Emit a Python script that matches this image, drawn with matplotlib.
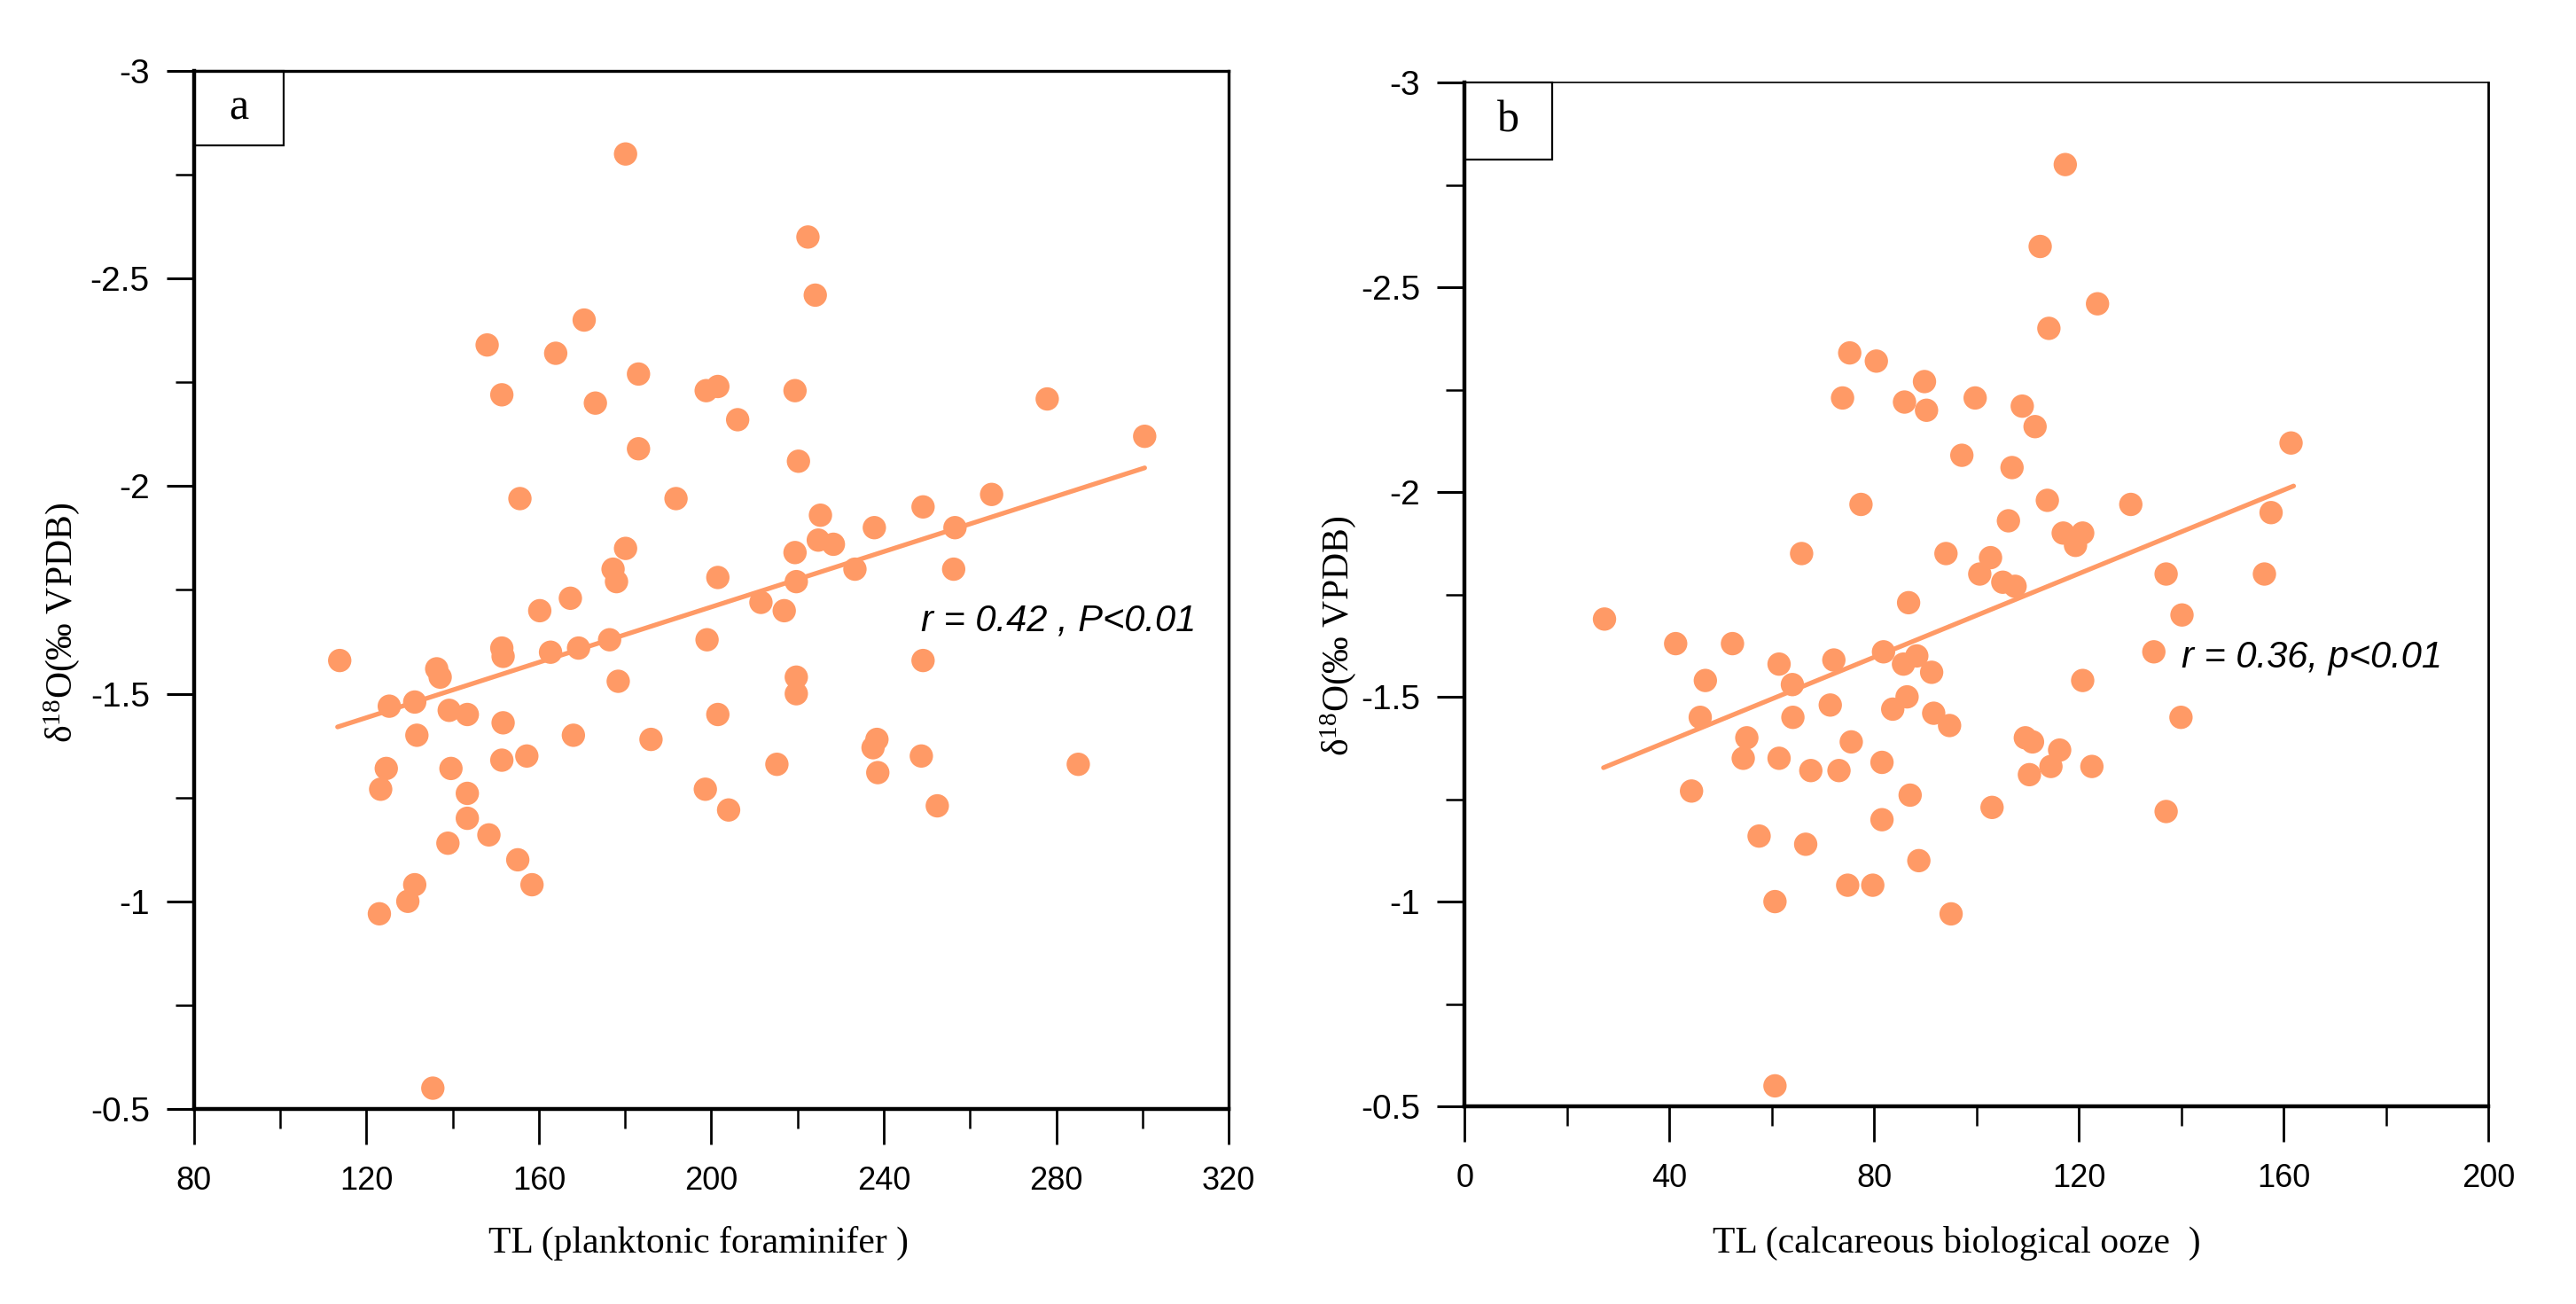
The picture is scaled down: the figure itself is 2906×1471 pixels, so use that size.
import matplotlib
matplotlib.use('Agg')
import matplotlib.pyplot as plt
from matplotlib.patches import Rectangle
from matplotlib.ticker import MultipleLocator

plt.rcParams['font.family'] = ['Liberation Sans', 'DejaVu Sans']
plt.rcParams['mathtext.fontset'] = 'custom'
plt.rcParams['mathtext.rm'] = 'Liberation Serif'
plt.rcParams['mathtext.it'] = 'Liberation Serif:italic'

# ---------------- data: panel a (planktonic foraminifer) ----------------
a_tl = [180.1, 170.5, 148.0, 163.9, 183.1, 151.4, 173.1, 183.1, 155.6, 191.8,
        180.1, 177.2, 178.0, 222.4, 224.1, 198.8, 201.5, 219.4, 206.1, 220.2,
        277.9, 300.5, 265.0, 249.1, 225.3, 237.8, 256.5, 219.4, 224.8, 228.3,
        201.5, 233.3, 256.2, 219.7, 160.2, 167.3, 113.8, 136.3, 137.1, 151.4,
        151.7, 162.7, 169.2, 176.4, 178.4, 199.0, 125.3, 131.2, 139.2, 143.4,
        151.7, 131.7, 168.0, 186.0, 124.6, 123.3, 139.6, 151.4, 157.2, 143.4,
        143.4, 148.4, 138.9, 155.1, 158.4, 131.2, 129.6, 123.0, 135.4, 211.5,
        216.9, 249.1, 219.7, 219.7, 201.5, 215.2, 238.4, 237.5, 238.6, 248.7,
        285.1, 198.6, 204.0, 252.4]
a_d18o = [-2.80, -2.40, -2.34, -2.32, -2.27, -2.22, -2.20, -2.09, -1.97, -1.97,
          -1.85, -1.80, -1.77, -2.60, -2.46, -2.23, -2.24, -2.23, -2.16, -2.06,
          -2.21, -2.12, -1.98, -1.95, -1.93, -1.90, -1.90, -1.84, -1.87, -1.86,
          -1.78, -1.80, -1.80, -1.77, -1.70, -1.73, -1.58, -1.56, -1.54, -1.61,
          -1.59, -1.60, -1.61, -1.63, -1.53, -1.63, -1.47, -1.48, -1.46, -1.45,
          -1.43, -1.40, -1.40, -1.39, -1.32, -1.27, -1.32, -1.34, -1.35, -1.26,
          -1.20, -1.16, -1.14, -1.10, -1.04, -1.04, -1.00, -0.97, -0.55, -1.72,
          -1.70, -1.58, -1.54, -1.50, -1.45, -1.33, -1.39, -1.37, -1.31, -1.35,
          -1.33, -1.27, -1.22, -1.23]
a_fit_tl = [113.3, 300.5]
a_fit_d18o = [-1.420, -2.044]

# ---------------- data: panel b (calcareous biological ooze) ----------------
b_tl = [75.2, 80.4, 89.8, 73.8, 85.9, 90.2, 99.7, 97.1, 77.4, 65.8,
        94.0, 117.3, 112.4, 123.6, 114.1, 108.9, 111.4, 106.9, 161.4, 113.8,
        130.1, 106.2, 116.9, 120.7, 119.3, 157.5, 102.7, 100.6, 105.1, 107.5,
        137.0, 156.2, 86.7, 27.3, 41.2, 52.3, 61.4, 64.0, 72.1, 81.8,
        85.7, 88.3, 91.2, 47.0, 46.0, 64.1, 71.4, 83.6, 86.4, 91.6,
        94.7, 55.1, 54.4, 61.4, 67.6, 73.1, 75.5, 81.5, 87.0, 44.3,
        81.5, 57.5, 66.6, 88.7, 74.8, 79.7, 60.6, 95.0, 60.6, 140.1,
        134.6, 120.7, 139.9, 109.5, 110.9, 116.2, 114.5, 110.3, 122.5, 103.0,
        137.0]
b_d18o = [-2.34, -2.32, -2.27, -2.23, -2.22, -2.20, -2.23, -2.09, -1.97, -1.85,
          -1.85, -2.80, -2.60, -2.46, -2.40, -2.21, -2.16, -2.06, -2.12, -1.98,
          -1.97, -1.93, -1.90, -1.90, -1.87, -1.95, -1.84, -1.80, -1.78, -1.77,
          -1.80, -1.80, -1.73, -1.69, -1.63, -1.63, -1.58, -1.53, -1.59, -1.61,
          -1.58, -1.60, -1.56, -1.54, -1.45, -1.45, -1.48, -1.47, -1.50, -1.46,
          -1.43, -1.40, -1.35, -1.35, -1.32, -1.32, -1.39, -1.34, -1.26, -1.27,
          -1.20, -1.16, -1.14, -1.10, -1.04, -1.04, -1.00, -0.97, -0.55, -1.70,
          -1.61, -1.54, -1.45, -1.40, -1.39, -1.37, -1.33, -1.31, -1.33, -1.23,
          -1.22]
b_fit_tl = [27.1, 161.9]
b_fit_d18o = [-1.327, -2.015]

# ---------------- ticks / labels ----------------
y_ticks = [-3, -2.5, -2, -1.5, -1, -0.5]
y_tick_labels = ['-3', '-2.5', '-2', '-1.5', '-1', '-0.5']
a_x_ticks = [80, 120, 160, 200, 240, 280, 320]
a_x_tick_labels = ['80', '120', '160', '200', '240', '280', '320']
b_x_ticks = [0, 40, 80, 120, 160, 200]
b_x_tick_labels = ['0', '40', '80', '120', '160', '200']

a_xlabel = 'TL (planktonic foraminifer )'
b_xlabel = 'TL (calcareous biological ooze  )'
ylabel = 'δ$^{18}$O(‰ VPDB)'
a_stat = 'r = 0.42 , P<0.01'
b_stat = 'r = 0.36, p<0.01'

COLOR = '#FF9A66'
SERIF = ['Liberation Serif', 'DejaVu Serif']

fig = plt.figure(figsize=(29.06, 14.71), dpi=100)
fig.patch.set_facecolor('white')

axA = fig.add_axes([0.0753, 0.1496, 0.4017, 0.796])
axB = fig.add_axes([0.5686, 0.1516, 0.3975, 0.785])


def style(ax, xticks, xticklabels, xlim, xlabel, label, box_w, box_h,
          top_lw, right_lw, xlabel_pos, ylabel_pos):
    ax.set_xlim(*xlim)
    ax.set_ylim(-0.5, -3)
    ax.set_xticks(xticks)
    ax.set_xticklabels(xticklabels)
    ax.set_yticks(y_ticks)
    ax.set_yticklabels(y_tick_labels)
    ax.xaxis.set_minor_locator(MultipleLocator(20))
    ax.yaxis.set_minor_locator(MultipleLocator(0.25))
    ax.tick_params(axis='x', which='major', direction='out', length=29, width=2.0,
                   pad=17, labelsize=26)
    ax.tick_params(axis='x', which='minor', direction='out', length=16, width=1.8)
    ax.tick_params(axis='y', which='major', direction='out', length=22, width=2.2,
                   pad=14, labelsize=28)
    ax.tick_params(axis='y', which='minor', direction='out', length=15, width=1.8)
    for s in ('bottom', 'left'):
        ax.spines[s].set_linewidth(3.2)
    ax.spines['top'].set_linewidth(top_lw)
    ax.spines['right'].set_linewidth(right_lw)
    ax.set_xlabel(xlabel, fontsize=30, family=SERIF)
    ax.xaxis.set_label_coords(*xlabel_pos)
    ax.set_ylabel(ylabel, fontsize=30, family=SERIF)
    ax.yaxis.set_label_coords(*ylabel_pos)
    ax.add_patch(Rectangle((0, 1 - box_h), box_w, box_h, transform=ax.transAxes,
                           fill=False, lw=1.6, edgecolor='black', clip_on=False,
                           zorder=5))
    ax.text(box_w / 2, 1 - box_h / 2, label, transform=ax.transAxes,
            ha='center', va='center', fontsize=36, family=SERIF, zorder=6)


# panel a
axA.scatter(a_tl, a_d18o, s=360, color=COLOR, edgecolors='none', zorder=3,
            clip_on=False)
axA.plot(a_fit_tl, a_fit_d18o, color=COLOR, lw=3.8, zorder=2,
         solid_capstyle='round')
axA.text(248.6, -1.676, a_stat, style='italic', fontsize=30, ha='left',
         va='center')
style(axA, a_x_ticks, a_x_tick_labels, (80, 320), a_xlabel, 'a', 0.087, 0.072,
      2.4, 2.4, (0.488, -0.113), (-0.1085, 0.468))

# panel b
axB.scatter(b_tl, b_d18o, s=360, color=COLOR, edgecolors='none', zorder=3,
            clip_on=False)
axB.plot(b_fit_tl, b_fit_d18o, color=COLOR, lw=3.8, zorder=2,
         solid_capstyle='round')
axB.text(140.0, -1.595, b_stat, style='italic', fontsize=30, ha='left',
         va='center')
style(axB, b_x_ticks, b_x_tick_labels, (0, 200), b_xlabel, 'b', 0.0857, 0.075,
      1.2, 2.0, (0.480, -0.117), (-0.104, 0.459))

fig.savefig('out.png', dpi=100, facecolor='white')
